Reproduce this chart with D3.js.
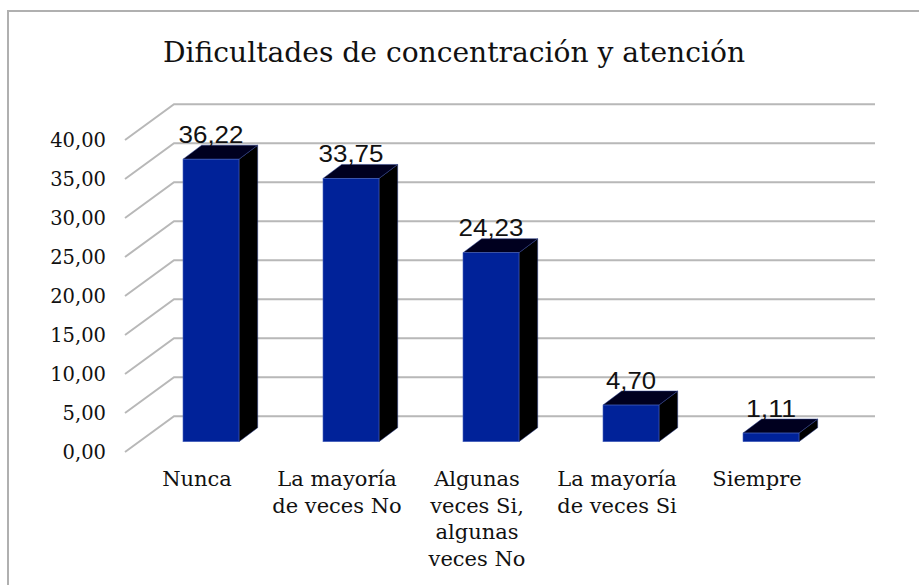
<!DOCTYPE html>
<html><head><meta charset="utf-8">
<style>html,body{margin:0;padding:0;background:#fff}svg{display:block}text{font-family:"DejaVu Serif",serif;fill:#111}</style>
<script src="https://cdn.jsdelivr.net/npm/d3@7/dist/d3.min.js"></script>
</head><body><script>
const title = "Dificultades de concentración y atención";
const categories = ["Nunca","La mayoría de veces No","Algunas veces Si, algunas veces No","La mayoría de veces Si","Siempre"];
const categoryLines = [["Nunca"],["La mayoría","de veces No"],["Algunas","veces Si,","algunas","veces No"],["La mayoría","de veces Si"],["Siempre"]];
const values = [36.22,33.75,24.23,4.70,1.11];
const valueLabels = ["36,22","33,75","24,23","4,70","1,11"];
const yTicks = [0,5,10,15,20,25,30,35,40];
const fmt = d => d.toFixed(2).replace(".", ",");

const svg = d3.select("body").append("svg").attr("width",919).attr("height",585);
const y = d3.scaleLinear().domain([0,40]).range([441.7,129.7]);
const x = d3.scaleBand().domain(categories).range([141,841]).paddingInner(0.6).paddingOuter(0.3);
const dx = 18.7, dy = 14;
const wallX0 = 174, wallX1 = 875, tickX = 125, wallDy = 25.5;

svg.append("rect").attr("x",8).attr("y",11).attr("width",1000).attr("height",700).attr("fill","#fff").attr("stroke","#b0b0b0").attr("stroke-width",2);

const grid = svg.append("g").attr("fill","none").attr("stroke","#b8b8b8").attr("stroke-width",2);
yTicks.forEach(t=>{
  const yy=y(t)+10.3;
  grid.append("path").attr("d",`M${tickX},${yy} L${wallX0},${yy-wallDy-10.3} L${wallX1},${yy-wallDy-10.3}`);
});

const bars = svg.selectAll("g.bar").data(categories).join("g").attr("class","bar");
bars.each(function(c,i){
  const g=d3.select(this), l=x(c), r=l+x.bandwidth(), t=y(values[i]), b=y(0);
  g.append("path").attr("d",`M${r},${t} L${r+dx},${t-dy} L${r+dx},${b-dy} L${r},${b} Z`).attr("fill","#000").attr("stroke","#2a3f8f").attr("stroke-width",0.5);
  g.append("path").attr("d",`M${l},${t} L${l+dx},${t-dy} L${r+dx},${t-dy} L${r},${t} Z`).attr("fill","#00001f").attr("stroke","#2a3f8f").attr("stroke-width",0.5);
  g.append("rect").attr("x",l).attr("y",t).attr("width",x.bandwidth()).attr("height",b-t).attr("fill","#002299").attr("stroke","#4a66c0").attr("stroke-width",0.6);
  g.append("text").attr("x",l+x.bandwidth()/2).attr("y",t-dy-2.5).attr("text-anchor","middle").attr("font-size",23)
    .attr("textLength",valueLabels[i].length==5?65:50).attr("lengthAdjust","spacingAndGlyphs")
    .style("font-family","'Liberation Sans',sans-serif").text(valueLabels[i]);
  const ly=[486,512.5,539,565.5];
  categoryLines[i].forEach((s,k)=>g.append("text").attr("x",l+x.bandwidth()/2-14).attr("y",ly[k]).attr("text-anchor","middle").attr("font-size",21).text(s));
});

svg.append("g").selectAll("text").data(yTicks).join("text").attr("x",106).attr("y",d=>y(d)+17).attr("text-anchor","end").attr("font-size",19.5).text(fmt);
svg.append("text").attr("x",454).attr("y",62).attr("text-anchor","middle").attr("font-size",28).attr("textLength",582).attr("lengthAdjust","spacingAndGlyphs").text(title);
</script></body></html>
